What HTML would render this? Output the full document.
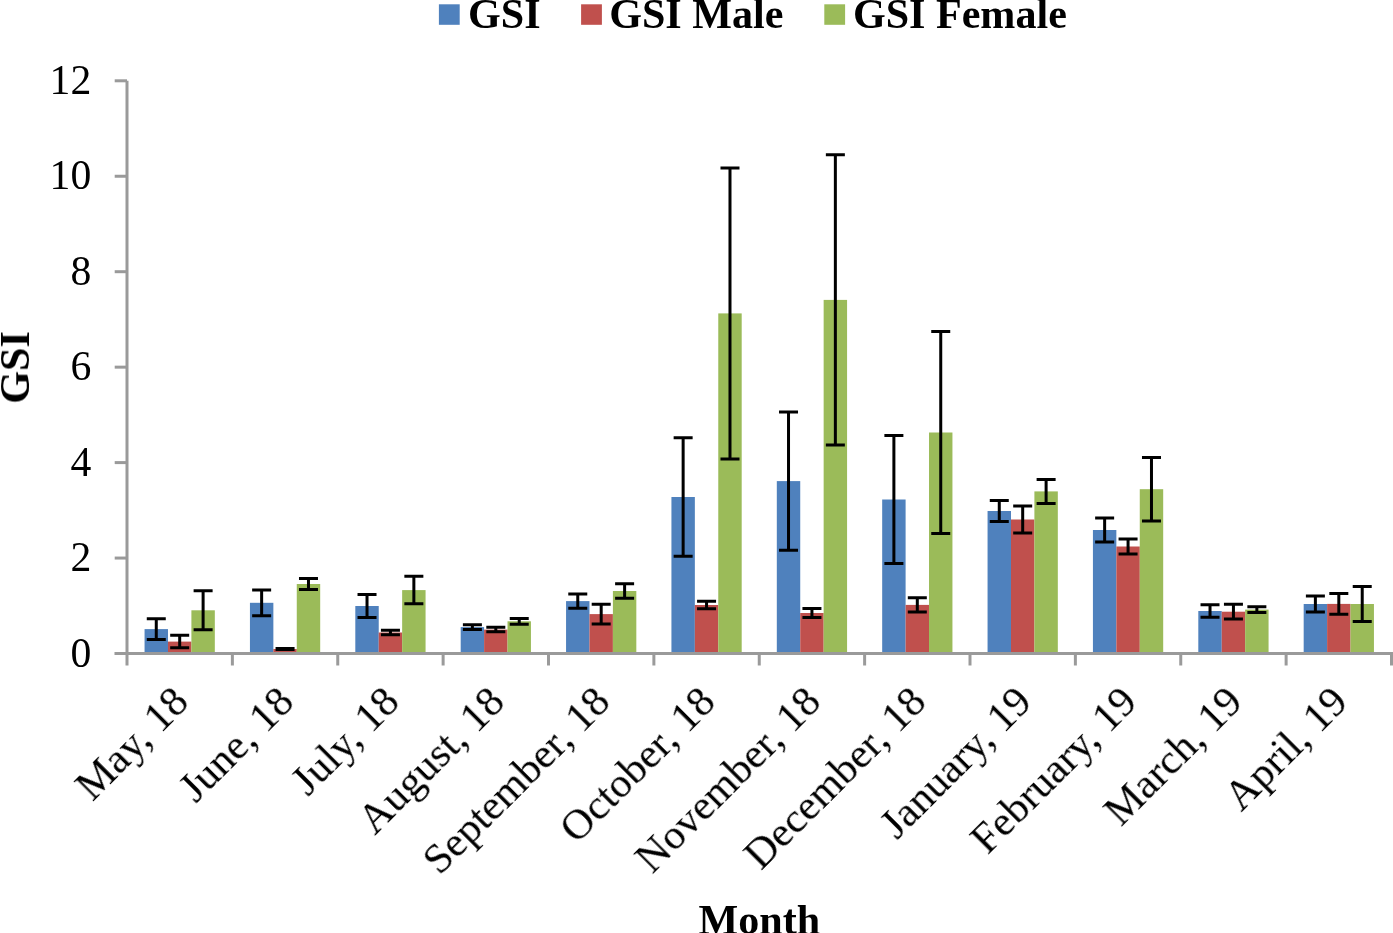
<!DOCTYPE html>
<html><head><meta charset="utf-8"><style>
html,body{margin:0;padding:0;background:#fff;}
svg{display:block;}
.t,.xl,.b{will-change:transform;}
.t{font-family:"Liberation Serif",serif;font-size:41.7px;fill:#000;}
.xl{font-family:"Liberation Serif",serif;font-size:42.5px;fill:#000;}
.b{font-family:"Liberation Serif",serif;font-size:42.1px;font-weight:bold;fill:#000;}
</style></head><body>
<svg width="1393" height="933" viewBox="0 0 1393 933">
<rect x="144.56" y="629.10" width="23.42" height="22.90" fill="#4f81bd"/>
<rect x="167.98" y="641.60" width="23.42" height="10.40" fill="#c0504d"/>
<rect x="191.40" y="610.30" width="23.42" height="41.70" fill="#9bbb59"/>
<rect x="249.94" y="602.80" width="23.42" height="49.20" fill="#4f81bd"/>
<rect x="273.36" y="649.00" width="23.42" height="3.00" fill="#c0504d"/>
<rect x="296.77" y="584.00" width="23.42" height="68.00" fill="#9bbb59"/>
<rect x="355.31" y="606.00" width="23.42" height="46.00" fill="#4f81bd"/>
<rect x="378.73" y="632.50" width="23.42" height="19.50" fill="#c0504d"/>
<rect x="402.15" y="590.10" width="23.42" height="61.90" fill="#9bbb59"/>
<rect x="460.69" y="627.10" width="23.42" height="24.90" fill="#4f81bd"/>
<rect x="484.11" y="629.60" width="23.42" height="22.40" fill="#c0504d"/>
<rect x="507.52" y="621.30" width="23.42" height="30.70" fill="#9bbb59"/>
<rect x="566.06" y="601.10" width="23.42" height="50.90" fill="#4f81bd"/>
<rect x="589.48" y="614.10" width="23.42" height="37.90" fill="#c0504d"/>
<rect x="612.90" y="591.00" width="23.42" height="61.00" fill="#9bbb59"/>
<rect x="671.43" y="497.00" width="23.42" height="155.00" fill="#4f81bd"/>
<rect x="694.85" y="605.00" width="23.42" height="47.00" fill="#c0504d"/>
<rect x="718.27" y="313.40" width="23.42" height="338.60" fill="#9bbb59"/>
<rect x="776.81" y="481.10" width="23.42" height="170.90" fill="#4f81bd"/>
<rect x="800.23" y="613.00" width="23.42" height="39.00" fill="#c0504d"/>
<rect x="823.65" y="299.90" width="23.42" height="352.10" fill="#9bbb59"/>
<rect x="882.18" y="499.50" width="23.42" height="152.50" fill="#4f81bd"/>
<rect x="905.60" y="604.90" width="23.42" height="47.10" fill="#c0504d"/>
<rect x="929.02" y="432.50" width="23.42" height="219.50" fill="#9bbb59"/>
<rect x="987.56" y="511.00" width="23.42" height="141.00" fill="#4f81bd"/>
<rect x="1010.98" y="519.50" width="23.42" height="132.50" fill="#c0504d"/>
<rect x="1034.40" y="491.40" width="23.42" height="160.60" fill="#9bbb59"/>
<rect x="1092.93" y="530.00" width="23.42" height="122.00" fill="#4f81bd"/>
<rect x="1116.36" y="546.50" width="23.42" height="105.50" fill="#c0504d"/>
<rect x="1139.77" y="489.20" width="23.42" height="162.80" fill="#9bbb59"/>
<rect x="1198.31" y="611.00" width="23.42" height="41.00" fill="#4f81bd"/>
<rect x="1221.73" y="611.70" width="23.42" height="40.30" fill="#c0504d"/>
<rect x="1245.15" y="609.60" width="23.42" height="42.40" fill="#9bbb59"/>
<rect x="1303.68" y="604.00" width="23.42" height="48.00" fill="#4f81bd"/>
<rect x="1327.11" y="603.90" width="23.42" height="48.10" fill="#c0504d"/>
<rect x="1350.52" y="604.00" width="23.42" height="48.00" fill="#9bbb59"/>
<path d="M127.0 80.8V665.5" stroke="#9a9a9a" stroke-width="3" fill="none"/>
<path d="M114.7 653.50H127.0" stroke="#9a9a9a" stroke-width="3"/>
<path d="M114.7 558.05H127.0" stroke="#9a9a9a" stroke-width="3"/>
<path d="M114.7 462.60H127.0" stroke="#9a9a9a" stroke-width="3"/>
<path d="M114.7 367.15H127.0" stroke="#9a9a9a" stroke-width="3"/>
<path d="M114.7 271.70H127.0" stroke="#9a9a9a" stroke-width="3"/>
<path d="M114.7 176.25H127.0" stroke="#9a9a9a" stroke-width="3"/>
<path d="M114.7 80.80H127.0" stroke="#9a9a9a" stroke-width="3"/>
<path d="M114.7 653.5H1393" stroke="#9a9a9a" stroke-width="3"/>
<path d="M232.38 653.5V665.5" stroke="#9a9a9a" stroke-width="3"/>
<path d="M337.75 653.5V665.5" stroke="#9a9a9a" stroke-width="3"/>
<path d="M443.12 653.5V665.5" stroke="#9a9a9a" stroke-width="3"/>
<path d="M548.50 653.5V665.5" stroke="#9a9a9a" stroke-width="3"/>
<path d="M653.88 653.5V665.5" stroke="#9a9a9a" stroke-width="3"/>
<path d="M759.25 653.5V665.5" stroke="#9a9a9a" stroke-width="3"/>
<path d="M864.62 653.5V665.5" stroke="#9a9a9a" stroke-width="3"/>
<path d="M970.00 653.5V665.5" stroke="#9a9a9a" stroke-width="3"/>
<path d="M1075.38 653.5V665.5" stroke="#9a9a9a" stroke-width="3"/>
<path d="M1180.75 653.5V665.5" stroke="#9a9a9a" stroke-width="3"/>
<path d="M1286.12 653.5V665.5" stroke="#9a9a9a" stroke-width="3"/>
<path d="M1391.50 653.5V665.5" stroke="#9a9a9a" stroke-width="3"/>
<path d="M156.27 618.70V639.50M146.77 618.70H165.77M146.77 639.50H165.77" stroke="#000" stroke-width="3" fill="none"/>
<path d="M179.69 635.35V647.85M170.19 635.35H189.19M170.19 647.85H189.19" stroke="#000" stroke-width="3" fill="none"/>
<path d="M203.11 590.80V629.80M193.61 590.80H212.61M193.61 629.80H212.61" stroke="#000" stroke-width="3" fill="none"/>
<path d="M261.64 589.95V615.65M252.14 589.95H271.14M252.14 615.65H271.14" stroke="#000" stroke-width="3" fill="none"/>
<path d="M285.06 648.50V649.50M275.56 648.50H294.56M275.56 649.50H294.56" stroke="#000" stroke-width="3" fill="none"/>
<path d="M308.48 578.45V589.55M298.98 578.45H317.98M298.98 589.55H317.98" stroke="#000" stroke-width="3" fill="none"/>
<path d="M367.02 594.50V617.50M357.52 594.50H376.52M357.52 617.50H376.52" stroke="#000" stroke-width="3" fill="none"/>
<path d="M390.44 630.20V634.80M380.94 630.20H399.94M380.94 634.80H399.94" stroke="#000" stroke-width="3" fill="none"/>
<path d="M413.86 576.35V603.85M404.36 576.35H423.36M404.36 603.85H423.36" stroke="#000" stroke-width="3" fill="none"/>
<path d="M472.39 624.80V629.40M462.89 624.80H481.89M462.89 629.40H481.89" stroke="#000" stroke-width="3" fill="none"/>
<path d="M495.81 627.35V631.85M486.31 627.35H505.31M486.31 631.85H505.31" stroke="#000" stroke-width="3" fill="none"/>
<path d="M519.24 618.45V624.15M509.74 618.45H528.74M509.74 624.15H528.74" stroke="#000" stroke-width="3" fill="none"/>
<path d="M577.77 594.05V608.15M568.27 594.05H587.27M568.27 608.15H587.27" stroke="#000" stroke-width="3" fill="none"/>
<path d="M601.19 604.15V624.05M591.69 604.15H610.69M591.69 624.05H610.69" stroke="#000" stroke-width="3" fill="none"/>
<path d="M624.61 583.70V598.30M615.11 583.70H634.11M615.11 598.30H634.11" stroke="#000" stroke-width="3" fill="none"/>
<path d="M683.14 437.75V556.25M673.64 437.75H692.64M673.64 556.25H692.64" stroke="#000" stroke-width="3" fill="none"/>
<path d="M706.56 601.20V608.80M697.06 601.20H716.06M697.06 608.80H716.06" stroke="#000" stroke-width="3" fill="none"/>
<path d="M729.99 167.90V458.90M720.49 167.90H739.49M720.49 458.90H739.49" stroke="#000" stroke-width="3" fill="none"/>
<path d="M788.52 411.90V550.30M779.02 411.90H798.02M779.02 550.30H798.02" stroke="#000" stroke-width="3" fill="none"/>
<path d="M811.94 608.50V617.50M802.44 608.50H821.44M802.44 617.50H821.44" stroke="#000" stroke-width="3" fill="none"/>
<path d="M835.36 154.80V445.00M825.86 154.80H844.86M825.86 445.00H844.86" stroke="#000" stroke-width="3" fill="none"/>
<path d="M893.89 435.50V563.50M884.39 435.50H903.39M884.39 563.50H903.39" stroke="#000" stroke-width="3" fill="none"/>
<path d="M917.31 597.80V612.00M907.81 597.80H926.81M907.81 612.00H926.81" stroke="#000" stroke-width="3" fill="none"/>
<path d="M940.74 331.50V533.50M931.24 331.50H950.24M931.24 533.50H950.24" stroke="#000" stroke-width="3" fill="none"/>
<path d="M999.27 500.50V521.50M989.77 500.50H1008.77M989.77 521.50H1008.77" stroke="#000" stroke-width="3" fill="none"/>
<path d="M1022.69 506.00V533.00M1013.19 506.00H1032.19M1013.19 533.00H1032.19" stroke="#000" stroke-width="3" fill="none"/>
<path d="M1046.11 479.40V503.40M1036.61 479.40H1055.61M1036.61 503.40H1055.61" stroke="#000" stroke-width="3" fill="none"/>
<path d="M1104.64 518.10V541.90M1095.14 518.10H1114.14M1095.14 541.90H1114.14" stroke="#000" stroke-width="3" fill="none"/>
<path d="M1128.07 539.00V554.00M1118.57 539.00H1137.57M1118.57 554.00H1137.57" stroke="#000" stroke-width="3" fill="none"/>
<path d="M1151.48 457.50V520.90M1141.98 457.50H1160.98M1141.98 520.90H1160.98" stroke="#000" stroke-width="3" fill="none"/>
<path d="M1210.02 604.80V617.20M1200.52 604.80H1219.52M1200.52 617.20H1219.52" stroke="#000" stroke-width="3" fill="none"/>
<path d="M1233.44 604.35V619.05M1223.94 604.35H1242.94M1223.94 619.05H1242.94" stroke="#000" stroke-width="3" fill="none"/>
<path d="M1256.86 606.75V612.45M1247.36 606.75H1266.36M1247.36 612.45H1266.36" stroke="#000" stroke-width="3" fill="none"/>
<path d="M1315.39 595.90V612.10M1305.89 595.90H1324.89M1305.89 612.10H1324.89" stroke="#000" stroke-width="3" fill="none"/>
<path d="M1338.82 593.60V614.20M1329.32 593.60H1348.32M1329.32 614.20H1348.32" stroke="#000" stroke-width="3" fill="none"/>
<path d="M1362.23 586.50V621.50M1352.73 586.50H1371.73M1352.73 621.50H1371.73" stroke="#000" stroke-width="3" fill="none"/>
<text x="91.3" y="666.50" text-anchor="end" class="t">0</text>
<text x="91.3" y="571.05" text-anchor="end" class="t">2</text>
<text x="91.3" y="475.60" text-anchor="end" class="t">4</text>
<text x="91.3" y="380.15" text-anchor="end" class="t">6</text>
<text x="91.3" y="284.70" text-anchor="end" class="t">8</text>
<text x="91.3" y="189.25" text-anchor="end" class="t">10</text>
<text x="91.3" y="93.80" text-anchor="end" class="t">12</text>
<text x="190.69" y="704.00" text-anchor="end" class="xl" transform="rotate(-45 190.69 704.00)" >May, 18</text>
<text x="296.06" y="704.00" text-anchor="end" class="xl" transform="rotate(-45 296.06 704.00)" >June, 18</text>
<text x="401.44" y="704.00" text-anchor="end" class="xl" transform="rotate(-45 401.44 704.00)" >July, 18</text>
<text x="506.81" y="704.00" text-anchor="end" class="xl" transform="rotate(-45 506.81 704.00)" >August, 18</text>
<text x="612.19" y="704.00" text-anchor="end" class="xl" transform="rotate(-45 612.19 704.00)" >September, 18</text>
<text x="717.56" y="704.00" text-anchor="end" class="xl" transform="rotate(-45 717.56 704.00)" >October, 18</text>
<text x="822.94" y="704.00" text-anchor="end" class="xl" transform="rotate(-45 822.94 704.00)" >November, 18</text>
<text x="928.31" y="704.00" text-anchor="end" class="xl" transform="rotate(-45 928.31 704.00)" >December, 18</text>
<text x="1033.69" y="704.00" text-anchor="end" class="xl" transform="rotate(-45 1033.69 704.00)" >January, 19</text>
<text x="1139.06" y="704.00" text-anchor="end" class="xl" transform="rotate(-45 1139.06 704.00)" >February, 19</text>
<text x="1244.44" y="704.00" text-anchor="end" class="xl" transform="rotate(-45 1244.44 704.00)" >March, 19</text>
<text x="1349.81" y="704.00" text-anchor="end" class="xl" transform="rotate(-45 1349.81 704.00)" >April, 19</text>
<text x="759.4" y="933.5" text-anchor="middle" class="b">Month</text>
<text transform="translate(29 367.5) rotate(-90)" text-anchor="middle" class="b">GSI</text>
<rect x="438.9" y="4.3" width="20.8" height="20.5" fill="#4f81bd"/>
<text x="468.1" y="28" class="b">GSI</text>
<rect x="581.1" y="4.3" width="20.8" height="20.5" fill="#c0504d"/>
<text x="609.2" y="28" class="b">GSI Male</text>
<rect x="824.3" y="4.3" width="20.8" height="20.5" fill="#9bbb59"/>
<text x="852.9" y="28" class="b">GSI Female</text>
</svg>
</body></html>
